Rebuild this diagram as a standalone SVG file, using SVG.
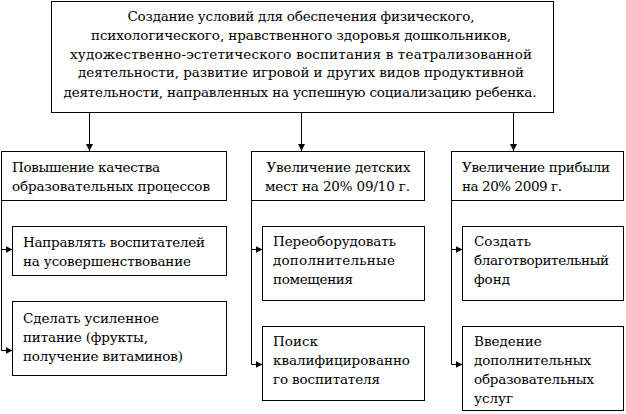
<svg xmlns="http://www.w3.org/2000/svg" width="626" height="414" viewBox="0 0 626 414">
<defs>
<marker id="ah" markerWidth="8" markerHeight="8" refX="7" refY="4" orient="auto" markerUnits="userSpaceOnUse">
<path d="M0,0.5 L7,4 L0,7.5 Z" fill="#000"/>
</marker>
<style>
rect{fill:#fff;stroke:#000;stroke-width:1}
text{font-family:"DejaVu Serif","Liberation Serif",serif;font-size:13.5px;fill:#000}
.c{text-anchor:middle}
#connectors path{fill:none;stroke:#000;stroke-width:1;marker-end:url(#ah)}
</style>
</defs>
<rect width="626" height="414" style="fill:#fff;stroke:none"/>
<g id="connectors">
<path d="M89.5,112.5 V151"/>
<path d="M301.5,112.5 V151"/>
<path d="M513.5,112.5 V151"/>
<path d="M1.5,200.5 V350.5 H12.5"/>
<path d="M1.5,249.5 H12.5"/>
<path d="M251.5,200.5 V364.5 H262.5"/>
<path d="M251.5,249.5 H262.5"/>
<path d="M451.5,200.5 V364.5 H462.5"/>
<path d="M451.5,249.5 H462.5"/>
</g>
<g id="top">
<rect x="51.5" y="1.5" width="502" height="111"/>
<text class="c" x="301" y="21" textLength="347" lengthAdjust="spacing">Создание условий для обеспечения физического,</text>
<text class="c" x="301" y="40" textLength="420" lengthAdjust="spacing">психологического, нравственного здоровья дошкольников,</text>
<text class="c" x="301" y="58.5" textLength="462" lengthAdjust="spacing">художественно-эстетического воспитания в театрализованной</text>
<text class="c" x="301" y="77" textLength="446" lengthAdjust="spacing">деятельности, развитие игровой и других видов продуктивной</text>
<text class="c" x="300" y="96.5" textLength="473" lengthAdjust="spacing">деятельности, направленных на успешную социализацию ребенка.</text>
</g>
<g id="n1">
<rect x="1.5" y="151.5" width="225" height="49"/>
<text x="12" y="172" textLength="148" lengthAdjust="spacing">Повышение качества</text>
<text x="12" y="190.5" textLength="198" lengthAdjust="spacing">образовательных процессов</text>
</g>
<g id="n2">
<rect x="251.5" y="151.5" width="173" height="49"/>
<text x="266.5" y="172" textLength="144" lengthAdjust="spacing">Увеличение детских</text>
<text x="265" y="190.5" textLength="145" lengthAdjust="spacing">мест на 20% 09/10 г.</text>
</g>
<g id="n3">
<rect x="451.5" y="151.5" width="172" height="49"/>
<text x="462" y="172" textLength="148" lengthAdjust="spacing">Увеличение прибыли</text>
<text x="462" y="190.5" textLength="100" lengthAdjust="spacing">на 20% 2009 г.</text>
</g>
<g id="n1a">
<rect x="12.5" y="226.5" width="214" height="49"/>
<text x="23" y="246.5" textLength="182" lengthAdjust="spacing">Направлять воспитателей</text>
<text x="23" y="265.5" textLength="168" lengthAdjust="spacing">на усовершенствование</text>
</g>
<g id="n1b">
<rect x="12.5" y="301.5" width="214" height="74"/>
<text x="23" y="322.5" textLength="136" lengthAdjust="spacing">Сделать усиленное</text>
<text x="23" y="341.5" textLength="125" lengthAdjust="spacing">питание (фрукты,</text>
<text x="23" y="360.5" textLength="160" lengthAdjust="spacing">получение витаминов)</text>
</g>
<g id="n2a">
<rect x="262.5" y="226.5" width="162" height="74"/>
<text x="273" y="245.5" textLength="123" lengthAdjust="spacing">Переоборудовать</text>
<text x="273" y="264.5" textLength="122" lengthAdjust="spacing">дополнительные</text>
<text x="273" y="283.5" textLength="80" lengthAdjust="spacing">помещения</text>
</g>
<g id="n2b">
<rect x="262.5" y="326.5" width="162" height="74"/>
<text x="273" y="346">Поиск</text>
<text x="273" y="365" textLength="137" lengthAdjust="spacing">квалифицированно</text>
<text x="273" y="384" textLength="107" lengthAdjust="spacing">го воспитателя</text>
</g>
<g id="n3a">
<rect x="462.5" y="226.5" width="161" height="74"/>
<text x="474" y="245.5">Создать</text>
<text x="474" y="264.5" textLength="135" lengthAdjust="spacing">благотворительный</text>
<text x="474" y="283.5">фонд</text>
</g>
<g id="n3b">
<rect x="462.5" y="326.5" width="161" height="84"/>
<text x="474" y="346">Введение</text>
<text x="474" y="365" textLength="117" lengthAdjust="spacing">дополнительных</text>
<text x="474" y="384" textLength="120" lengthAdjust="spacing">образовательных</text>
<text x="474" y="403">услуг</text>
</g>
</svg>
